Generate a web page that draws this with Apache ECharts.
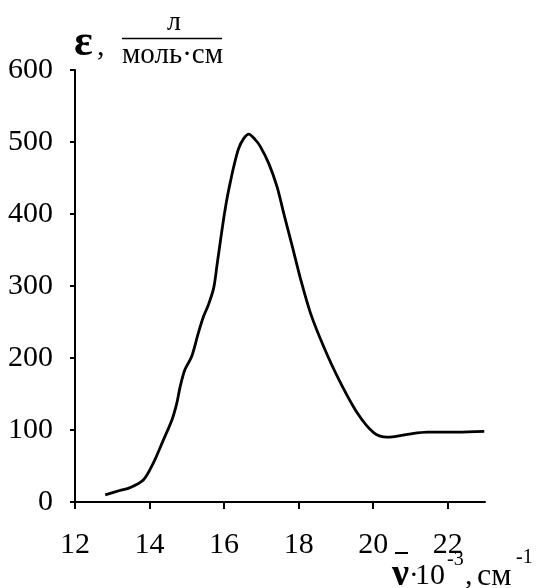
<!DOCTYPE html>
<html>
<head>
<meta charset="utf-8">
<script src="https://cdn.jsdelivr.net/npm/echarts@6/dist/echarts.min.js"></script>
<style>
  html, body { margin: 0; padding: 0; background: #fff; }
  #chart { width: 536px; height: 588px; }
</style>
</head>
<body>
<div id="chart"></div>
<script>
// Absorption spectrum: wavenumber (×10^3 cm^-1) vs molar absorptivity ε (L/(mol·cm))
const wavenumber = [12.81, 13.2, 13.48, 13.84, 14.10, 14.37, 14.60, 14.73, 14.82, 14.95, 15.13, 15.31, 15.45, 15.58, 15.72, 15.81, 15.90, 15.99, 16.08, 16.17, 16.26, 16.39, 16.53, 16.66, 16.84, 16.97, 17.20, 17.42, 17.60, 17.83, 18.05, 18.32, 18.67, 19.08, 19.57, 20.02, 20.38, 20.92, 21.45, 22.26, 22.98];
const epsilon = [10, 16, 20, 31, 54, 86, 114, 137, 160, 184, 202, 235, 258, 274, 297, 329, 362, 394, 422, 445, 466, 491, 505, 511, 503, 494, 470, 438, 401, 355, 310, 262, 216, 170, 124, 96, 90, 94, 97, 97, 98];
const xTicks = [12, 14, 16, 18, 20, 22];

const FONT = '"Liberation Serif", "Times New Roman", serif';
const chart = echarts.init(document.getElementById('chart'));

const points = wavenumber.map((w, i) => [w, epsilon[i]]);

// text piece placed by its left edge (or centre) and its bottom
function txt(text, x, y, size, opts) {
  opts = opts || {};
  return {
    type: 'text', x: x, y: y,
    style: {
      text: text,
      font: (opts.bold ? 'bold ' : '') + size + 'px ' + FONT,
      fill: '#000',
      textAlign: opts.align || 'left',
      align: opts.align || 'left',
      textVerticalAlign: 'bottom',
      verticalAlign: 'bottom'
    }
  };
}

chart.setOption({
  backgroundColor: '#ffffff',
  animation: false,
  grid: { left: 75, right: 51, top: 70, bottom: 86, containLabel: false },
  xAxis: {
    type: 'value',
    min: 12, max: 23, interval: 2,
    axisLine: { show: true, lineStyle: { color: '#000', width: 2 } },
    axisTick: { show: true, inside: false, length: 7, lineStyle: { color: '#000', width: 2 },
      customValues: xTicks },
    axisLabel: { customValues: xTicks, color: '#000', fontFamily: FONT, fontSize: 30, margin: 28 },
    splitLine: { show: false }
  },
  yAxis: {
    type: 'value',
    min: 0, max: 600, interval: 100,
    axisLine: { show: true, lineStyle: { color: '#000', width: 2 } },
    axisTick: { show: true, inside: false, length: 5, lineStyle: { color: '#000', width: 2 } },
    axisLabel: { color: '#000', fontFamily: FONT, fontSize: 30, margin: 22 },
    splitLine: { show: false }
  },
  series: [{
    type: 'line',
    data: points,
    smooth: 0.3,
    showSymbol: false,
    clip: false,
    lineStyle: { color: '#000', width: 2.8 }
  }],
  graphic: [
    // y-axis title: ε, л / (моль·см)
    txt('ε', 74, 66, 44, { bold: true }),
    txt(',', 97, 62, 30),
    txt('л', 174, 37, 28, { align: 'center' }),
    { type: 'line', shape: { x1: 122, y1: 38.5, x2: 222, y2: 38.5 }, style: { stroke: '#000', lineWidth: 1.5 } },
    txt('моль·см', 172.5, 70, 29, { align: 'center' }),
    // x-axis title: ν̄·10^-3, см^-1
    { type: 'line', shape: { x1: 395, y1: 553, x2: 408, y2: 553 }, style: { stroke: '#000', lineWidth: 2 } },
    txt('ν', 392, 594, 38, { bold: true }),
    txt('·', 409, 591, 29),
    txt('10', 415, 591, 30),
    txt('-3', 447, 570, 20),
    txt(',', 465, 591, 30),
    txt('см', 477, 593, 32),
    txt('-1', 516, 568, 20)
  ]
});
</script>
</body>
</html>
